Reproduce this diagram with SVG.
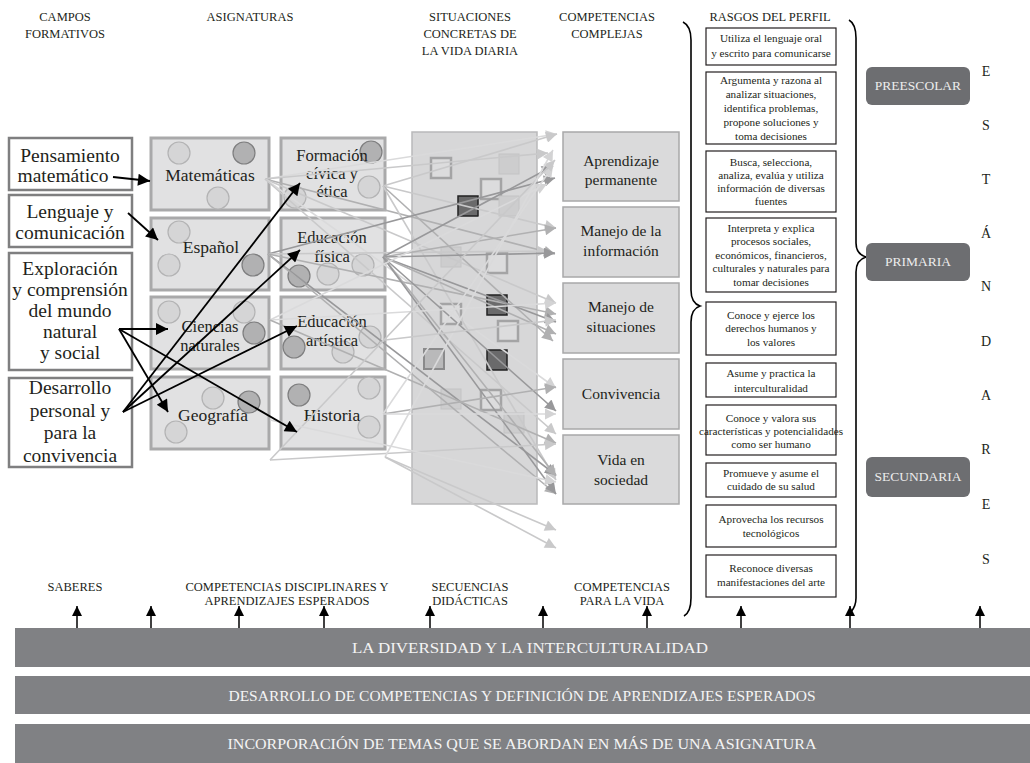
<svg xmlns="http://www.w3.org/2000/svg" width="1030" height="763" viewBox="0 0 1030 763">
<defs>
<style>
text{font-family:"Liberation Serif","Times New Roman",serif;fill:#231f20}
.hd{font-size:12.5px;text-anchor:middle}
.cf{font-size:19.5px;text-anchor:middle}
.as{font-size:17.5px;text-anchor:middle}
.as2{font-size:16.5px;text-anchor:middle}
.cp{font-size:15.5px;text-anchor:middle}
.rp{font-size:11.2px;text-anchor:middle}
.lv{font-size:13.5px;text-anchor:middle;fill:#ececec}
.est{font-size:14px;text-anchor:middle}
.bar{fill:#808184}
.bt{font-size:15px;text-anchor:middle;fill:#f4f4f4}
.cfb{fill:#fff;stroke:#7f7f80;stroke-width:2.5}
.asb{fill:#e1e1e2;stroke:#a9a9aa;stroke-width:3}
.cpb{fill:#dadadb;stroke:#a8a8a9;stroke-width:1.5}
.rpb{fill:#fff;stroke:#231f20;stroke-width:1.2}
.lvb{fill:#6d6e71}
.cl{fill:#d5d5d6;stroke:#b3b3b4;stroke-width:1.2}
.cd{fill:#b1b1b2;stroke:#7e7e7f;stroke-width:1.2}
.so{fill:#dcdcdd;stroke:#a4a4a5;stroke-width:2.5}
.sl{fill:#cdcdce;stroke:#c3c3c4;stroke-width:1}
.sd{fill:#6a6a6b;stroke:#222;stroke-width:1.5}
.sm{fill:#b9b9ba;stroke:#8a8a8b;stroke-width:2}
.bk{fill:none;stroke:#000;stroke-width:1.8;marker-end:url(#ab)}
.c1{fill:none;stroke:#c9c9ca;stroke-width:1.6;marker-end:url(#m1)}
.c2{fill:none;stroke:#b0b0b1;stroke-width:1.6;marker-end:url(#m2)}
.c3{fill:none;stroke:#98989a;stroke-width:1.6;marker-end:url(#m3)}
.c4{fill:none;stroke:#dadadb;stroke-width:1.6;marker-end:url(#m4)}
.up{fill:none;stroke:#000;stroke-width:1.5;marker-end:url(#au)}
.br{fill:none;stroke:#000;stroke-width:1.6}
</style>
<marker id="ab" viewBox="0 0 10 10" refX="10" refY="5" markerWidth="16" markerHeight="12" markerUnits="userSpaceOnUse" orient="auto"><path d="M0,0 L10,5 L0,10 z" fill="#000"/></marker>
<marker id="au" viewBox="0 0 10 10" refX="10" refY="5" markerWidth="13" markerHeight="10" markerUnits="userSpaceOnUse" orient="auto"><path d="M0,0 L10,5 L0,10 z" fill="#000"/></marker>
<marker id="m1" viewBox="0 0 10 10" refX="10" refY="5" markerWidth="16" markerHeight="11" markerUnits="userSpaceOnUse" orient="auto"><path d="M0,0 L10,5 L0,10 z" fill="#c9c9ca"/></marker>
<marker id="m2" viewBox="0 0 10 10" refX="10" refY="5" markerWidth="16" markerHeight="11" markerUnits="userSpaceOnUse" orient="auto"><path d="M0,0 L10,5 L0,10 z" fill="#b0b0b1"/></marker>
<marker id="m3" viewBox="0 0 10 10" refX="10" refY="5" markerWidth="16" markerHeight="11" markerUnits="userSpaceOnUse" orient="auto"><path d="M0,0 L10,5 L0,10 z" fill="#98989a"/></marker>
<marker id="m4" viewBox="0 0 10 10" refX="10" refY="5" markerWidth="16" markerHeight="11" markerUnits="userSpaceOnUse" orient="auto"><path d="M0,0 L10,5 L0,10 z" fill="#d3d3d4"/></marker>
</defs>

<g id="headers">
<text class="hd" x="65" y="21">CAMPOS</text>
<text class="hd" x="65" y="38">FORMATIVOS</text>
<text class="hd" x="250" y="21">ASIGNATURAS</text>
<text class="hd" x="470" y="21">SITUACIONES</text>
<text class="hd" x="470" y="38">CONCRETAS DE</text>
<text class="hd" x="470" y="55">LA VIDA DIARIA</text>
<text class="hd" x="607" y="21">COMPETENCIAS</text>
<text class="hd" x="607" y="38">COMPLEJAS</text>
<text class="hd" x="770" y="21">RASGOS DEL PERFIL</text>
</g>

<g id="campo-pensamiento"><rect class="cfb" x="9" y="138" width="123" height="52"/><text class="cf" x="70" y="162">Pensamiento</text><text class="cf" x="63" y="182">matemático</text></g>
<g id="campo-lenguaje"><rect class="cfb" x="9" y="195" width="123" height="52"/><text class="cf" x="70" y="218">Lenguaje y</text><text class="cf" x="70" y="239">comunicación</text></g>
<g id="campo-exploracion"><rect class="cfb" x="9" y="253" width="123" height="117"/><text class="cf" x="70" y="275">Exploración</text><text class="cf" x="70" y="296">y comprensión</text><text class="cf" x="70" y="317">del mundo</text><text class="cf" x="70" y="338">natural</text><text class="cf" x="70" y="359">y social</text></g>
<g id="campo-desarrollo"><rect class="cfb" x="9" y="378" width="123" height="89"/><text class="cf" x="70" y="394">Desarrollo</text><text class="cf" x="70" y="417">personal y</text><text class="cf" x="70" y="439">para la</text><text class="cf" x="70" y="462">convivencia</text></g>

<g id="asig-matematicas"><rect class="asb" x="151" y="138" width="118" height="72"/><circle class="cl" cx="179" cy="153" r="11"/><circle class="cd" cx="244" cy="153" r="11"/><circle class="cl" cx="218" cy="198" r="11"/><text class="as" x="210" y="181">Matemáticas</text></g>
<g id="asig-espanol"><rect class="asb" x="151" y="218" width="118" height="72"/><circle class="cl" cx="179" cy="232" r="11"/><circle class="cl" cx="169" cy="265" r="11"/><circle class="cd" cx="253" cy="265" r="11"/><text class="as" x="211" y="253">Español</text></g>
<g id="asig-ciencias"><rect class="asb" x="151" y="297" width="118" height="72"/><circle class="cl" cx="169" cy="312" r="11"/><circle class="cl" cx="244" cy="312" r="11"/><circle class="cd" cx="254" cy="333" r="11"/><text class="as2" x="210" y="332">Ciencias</text><text class="as2" x="210" y="351">naturales</text></g>
<g id="asig-geografia"><rect class="asb" x="151" y="377" width="118" height="72"/><circle class="cl" cx="213" cy="398" r="11"/><circle class="cd" cx="249" cy="402" r="11"/><circle class="cl" cx="176" cy="432" r="11"/><text class="as" x="213" y="421">Geografía</text></g>
<g id="asig-formacion"><rect class="asb" x="281" y="138" width="104" height="72"/><circle class="cd" cx="371" cy="152" r="11"/><circle class="cl" cx="369" cy="187" r="11"/><circle class="cl" cx="295" cy="197" r="11"/><text class="as2" x="332" y="161">Formación</text><text class="as2" x="332" y="179">cívica y</text><text class="as2" x="332" y="197">ética</text></g>
<g id="asig-fisica"><rect class="asb" x="281" y="218" width="104" height="72"/><circle class="cd" cx="299" cy="276" r="11"/><circle class="cl" cx="328" cy="274" r="11"/><circle class="cl" cx="363" cy="265" r="11"/><text class="as2" x="332" y="243">Educación</text><text class="as2" x="332" y="262">física</text></g>
<g id="asig-artistica"><rect class="asb" x="281" y="297" width="104" height="72"/><circle class="cd" cx="294" cy="347" r="11"/><circle class="cl" cx="343" cy="352" r="11"/><circle class="cl" cx="370" cy="337" r="11"/><text class="as2" x="332" y="327">Educación</text><text class="as2" x="332" y="346">artística</text></g>
<g id="asig-historia"><rect class="asb" x="281" y="377" width="104" height="72"/><circle class="cd" cx="299" cy="395" r="11"/><circle class="cl" cx="369" cy="388" r="11"/><circle class="cl" cx="369" cy="427" r="11"/><text class="as" x="332" y="421">Historia</text></g>

<g id="situaciones">
<rect x="412" y="132" width="125" height="372" fill="#d7d7d8" stroke="#b9b9ba" stroke-width="1.5"/>
<rect class="so" x="431" y="158" width="20" height="20"/>
<rect class="sl" x="499" y="154" width="20" height="20"/>
<rect class="so" x="481" y="179" width="20" height="20"/>
<rect class="sd" x="458" y="196" width="20" height="20"/>
<rect class="sl" x="499" y="196" width="20" height="20"/>
<rect class="sl" x="441" y="247" width="20" height="20"/>
<rect class="so" x="487" y="253" width="20" height="20"/>
<rect class="sd" x="487" y="295" width="20" height="20"/>
<rect class="so" x="441" y="304" width="20" height="20"/>
<rect class="so" x="498" y="321" width="20" height="20"/>
<rect class="sm" x="424" y="349" width="20" height="20"/>
<rect class="sd" x="487" y="350" width="20" height="20"/>
<rect class="sl" x="441" y="389" width="20" height="20"/>
<rect class="so" x="481" y="390" width="20" height="20"/>
<rect class="sl" x="504" y="413" width="20" height="20"/>
</g>

<g id="comp-aprendizaje"><rect class="cpb" x="563" y="132" width="116" height="69"/><text class="cp" x="621" y="166">Aprendizaje</text><text class="cp" x="621" y="185">permanente</text></g>
<g id="comp-informacion"><rect class="cpb" x="563" y="207" width="116" height="70"/><text class="cp" x="621" y="236">Manejo de la</text><text class="cp" x="621" y="256">información</text></g>
<g id="comp-situaciones"><rect class="cpb" x="563" y="283" width="116" height="70"/><text class="cp" x="621" y="312">Manejo de</text><text class="cp" x="621" y="332">situaciones</text></g>
<g id="comp-convivencia"><rect class="cpb" x="563" y="359" width="116" height="70"/><text class="cp" x="621" y="399">Convivencia</text></g>
<g id="comp-vida"><rect class="cpb" x="563" y="435" width="116" height="69"/><text class="cp" x="621" y="465">Vida en</text><text class="cp" x="621" y="485">sociedad</text></g>

<g id="rasgos">
<g id="rasgo-1"><rect class="rpb" x="706" y="28" width="130" height="37"/><text class="rp" x="771" y="42">Utiliza el lenguaje oral</text><text class="rp" x="771" y="57">y escrito para comunicarse</text></g>
<g id="rasgo-2"><rect class="rpb" x="706" y="72" width="130" height="72"/><text class="rp" x="771" y="84">Argumenta y razona al</text><text class="rp" x="771" y="98">analizar situaciones,</text><text class="rp" x="771" y="112">identifica problemas,</text><text class="rp" x="771" y="126">propone soluciones y</text><text class="rp" x="771" y="140">toma decisiones</text></g>
<g id="rasgo-3"><rect class="rpb" x="706" y="151" width="130" height="61"/><text class="rp" x="771" y="166">Busca, selecciona,</text><text class="rp" x="771" y="179">analiza, evalúa y utiliza</text><text class="rp" x="771" y="192">información de diversas</text><text class="rp" x="771" y="205">fuentes</text></g>
<g id="rasgo-4"><rect class="rpb" x="706" y="218" width="130" height="74"/><text class="rp" x="771" y="232">Interpreta y explica</text><text class="rp" x="771" y="245">procesos sociales,</text><text class="rp" x="771" y="259">económicos, financieros,</text><text class="rp" x="771" y="272">culturales y naturales para</text><text class="rp" x="771" y="286">tomar decisiones</text></g>
<g id="rasgo-5"><rect class="rpb" x="706" y="302" width="130" height="53"/><text class="rp" x="771" y="319">Conoce y ejerce los</text><text class="rp" x="771" y="332">derechos humanos y</text><text class="rp" x="771" y="346">los valores</text></g>
<g id="rasgo-6"><rect class="rpb" x="706" y="363" width="130" height="34"/><text class="rp" x="771" y="377">Asume y practica la</text><text class="rp" x="771" y="392">interculturalidad</text></g>
<g id="rasgo-7"><rect class="rpb" x="706" y="405" width="130" height="50"/><text class="rp" x="771" y="422">Conoce y valora sus</text><text class="rp" x="771" y="435">características y potencialidades</text><text class="rp" x="771" y="448">como ser humano</text></g>
<g id="rasgo-8"><rect class="rpb" x="706" y="463" width="130" height="34"/><text class="rp" x="771" y="477">Promueve y asume el</text><text class="rp" x="771" y="490">cuidado de su salud</text></g>
<g id="rasgo-9"><rect class="rpb" x="706" y="505" width="130" height="42"/><text class="rp" x="771" y="523">Aprovecha los recursos</text><text class="rp" x="771" y="537">tecnológicos</text></g>
<g id="rasgo-10"><rect class="rpb" x="706" y="555" width="130" height="42"/><text class="rp" x="771" y="572">Reconoce diversas</text><text class="rp" x="771" y="586">manifestaciones del arte</text></g>
</g>

<g id="braces">
<path class="br" d="M683,22 Q691,26 691,40 L691,290 Q691,303 700,306 Q691,309 691,322 L691,598 Q691,612 684,616"/>
<path class="br" d="M849,20 Q856,24 856,38 L856,243 Q856,254 866,257 Q856,260 856,272 L856,598 Q856,606 851,612"/>
</g>

<g id="nivel-preescolar"><rect class="lvb" x="866" y="67" width="104" height="38" rx="6"/><text class="lv" x="918" y="90">PREESCOLAR</text></g>
<g id="nivel-primaria"><rect class="lvb" x="866" y="243" width="104" height="38" rx="6"/><text class="lv" x="918" y="266">PRIMARIA</text></g>
<g id="nivel-secundaria"><rect class="lvb" x="866" y="457" width="104" height="40" rx="6"/><text class="lv" x="918" y="481">SECUNDARIA</text></g>

<g id="estandares">
<text class="est" x="986" y="76">E</text>
<text class="est" x="986" y="130">S</text>
<text class="est" x="986" y="184">T</text>
<text class="est" x="986" y="238">Á</text>
<text class="est" x="986" y="291">N</text>
<text class="est" x="986" y="346">D</text>
<text class="est" x="986" y="400">A</text>
<text class="est" x="986" y="454">R</text>
<text class="est" x="986" y="509">E</text>
<text class="est" x="986" y="564">S</text>
</g>

<g id="bottom-labels">
<text class="hd" x="75" y="591">SABERES</text>
<text class="hd" x="287" y="591">COMPETENCIAS DISCIPLINARES Y</text>
<text class="hd" x="287" y="605">APRENDIZAJES ESPERADOS</text>
<text class="hd" x="470" y="591">SECUENCIAS</text>
<text class="hd" x="470" y="605">DIDÁCTICAS</text>
<text class="hd" x="622" y="591">COMPETENCIAS</text>
<text class="hd" x="622" y="605">PARA LA VIDA</text>
</g>

<g id="bar-diversidad"><rect class="bar" x="15" y="628" width="1015" height="39"/><text class="bt" x="530" y="653" textLength="356" lengthAdjust="spacingAndGlyphs">LA DIVERSIDAD Y LA INTERCULTURALIDAD</text></g>
<g id="bar-desarrollo"><rect class="bar" x="15" y="676" width="1015" height="38"/><text class="bt" x="522" y="701" textLength="587" lengthAdjust="spacingAndGlyphs">DESARROLLO DE COMPETENCIAS Y DEFINICIÓN DE APRENDIZAJES ESPERADOS</text></g>
<g id="bar-incorporacion"><rect class="bar" x="15" y="724" width="1015" height="39"/><text class="bt" x="522" y="749" textLength="589" lengthAdjust="spacingAndGlyphs">INCORPORACIÓN DE TEMAS QUE SE ABORDAN EN MÁS DE UNA ASIGNATURA</text></g>

<g id="connectors">
<g id="gray-links">
<path class="c4" d="M265,179 L557,134"/>
<path class="c1" d="M265,179 L548,153"/>
<path class="c2" d="M265,179 L555,254"/>
<path class="c1" d="M265,179 L556,303"/>
<path class="c4" d="M265,179 L556,388"/>
<path class="c1" d="M265,179 L556,434"/>
<path class="c1" d="M383,186 L557,134"/>
<path class="c1" d="M383,186 L556,228"/>
<path class="c2" d="M383,186 L553,341"/>
<path class="c1" d="M383,186 L556,480"/>
<path class="c3" d="M268,254 L555,178"/>
<path class="c1" d="M268,254 L548,251"/>
<path class="c2" d="M268,254 L556,314"/>
<path class="c3" d="M268,254 L556,475"/>
<path class="c2" d="M268,254 L556,494"/>
<path class="c3" d="M383,257 L553,166"/>
<path class="c2" d="M383,257 L556,228"/>
<path class="c3" d="M383,257 L555,253"/>
<path class="c3" d="M383,257 L556,322"/>
<path class="c2" d="M383,257 L556,334"/>
<path class="c3" d="M383,257 L556,411"/>
<path class="c2" d="M383,257 L556,476"/>
<path class="c3" d="M383,257 L556,494"/>
<path class="c4" d="M270,320 L547,184"/>
<path class="c4" d="M270,320 L556,303"/>
<path class="c2" d="M270,320 L556,443"/>
<path class="c4" d="M383,414 L553,166"/>
<path class="c2" d="M383,414 L556,387"/>
<path class="c4" d="M383,414 L556,414"/>
<path class="c1" d="M270,460 L555,160"/>
<path class="c1" d="M270,460 L556,444"/>
<path class="c4" d="M385,457 L553,150"/>
<path class="c1" d="M385,457 L556,530"/>
<path class="c1" d="M385,457 L556,548"/>
<path class="c4" d="M270,420 L556,482"/>
<path class="c1" d="M385,340 L556,320"/>
</g>
<g id="black-links">
<path class="bk" d="M113,177 L150,181"/>
<path class="bk" d="M128,213 L158,240"/>
<path class="bk" d="M119,329 L168,329"/>
<path class="bk" d="M119,329 L168,412"/>
<path class="bk" d="M119,329 L297,432"/>
<path class="bk" d="M123,412 L300,183"/>
<path class="bk" d="M123,412 L300,250"/>
<path class="bk" d="M123,412 L297,326"/>
</g>
<g id="up-arrows">
<path class="up" d="M77,628 L77,606"/>
<path class="up" d="M151,628 L151,606"/>
<path class="up" d="M239,628 L239,606"/>
<path class="up" d="M324,628 L324,606"/>
<path class="up" d="M430,628 L430,606"/>
<path class="up" d="M543,628 L543,606"/>
<path class="up" d="M647,628 L647,606"/>
<path class="up" d="M741,628 L741,606"/>
<path class="up" d="M850,628 L850,606"/>
<path class="up" d="M980,628 L980,606"/>
</g>
</g>
</svg>
